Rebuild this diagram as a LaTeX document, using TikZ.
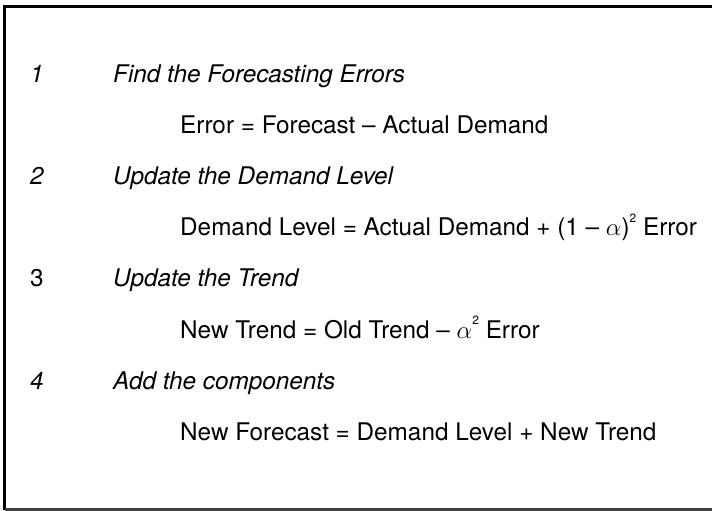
\documentclass[tikz,border=0pt]{standalone}
\usepackage{fontspec}
\setmainfont{TeX Gyre Heros}
\newcommand{\mysup}[1]{\raisebox{0.55em}{\fontsize{12}{12}\selectfont #1}}
\begin{document}
\begin{tikzpicture}[x=1pt,y=-1pt,
  txt/.style={inner sep=0pt, anchor=base west, font=\fontsize{24.3}{28}\selectfont},
  num/.style={txt},
  inum/.style={txt, font=\fontsize{24.3}{28}\selectfont\itshape},
  head/.style={txt, font=\fontsize{24.3}{28}\selectfont\itshape},
  eqn/.style={txt},
  frame/.style={line width=2.6pt, black}]
\useasboundingbox (0,0) rectangle (712,511);
% frame
\coordinate (tl) at (4.5,6.5);
\coordinate (tr) at (712,6.5);
\coordinate (bl) at (4.5,509.5);
\coordinate (br) at (712,509.5);
\draw[frame] (tr) -- (tl) -- (bl);
\draw[line width=2.2pt, black!75] (bl) -- (br);
% rows
\node[inum] (n1) at (30,82) {1};
\node[head] (h1) at (113,82) {Find the Forecasting Errors};
\node[eqn] (e1) at (180,133) {Error = Forecast -- Actual Demand};
\node[inum] (n2) at (30,184.3) {2};
\node[head] (h2) at (113,184.3) {Update the Demand Level};
\node[eqn] (e2) at (180,235.6) {Demand Level = Actual Demand + (1 -- $\alpha$)\mysup{2} Error};
\node[num] (n3) at (30,286.9) {3};
\node[head] (h3) at (113,286.9) {Update the Trend};
\node[eqn] (e3) at (180,338.2) {New Trend = Old Trend -- $\alpha$\mysup{2} Error};
\node[inum] (n4) at (30,389.5) {4};
\node[head] (h4) at (113,389.5) {Add the components};
\node[eqn] (e4) at (180,440.8) {New Forecast = Demand Level + New Trend};
\end{tikzpicture}
\end{document}
